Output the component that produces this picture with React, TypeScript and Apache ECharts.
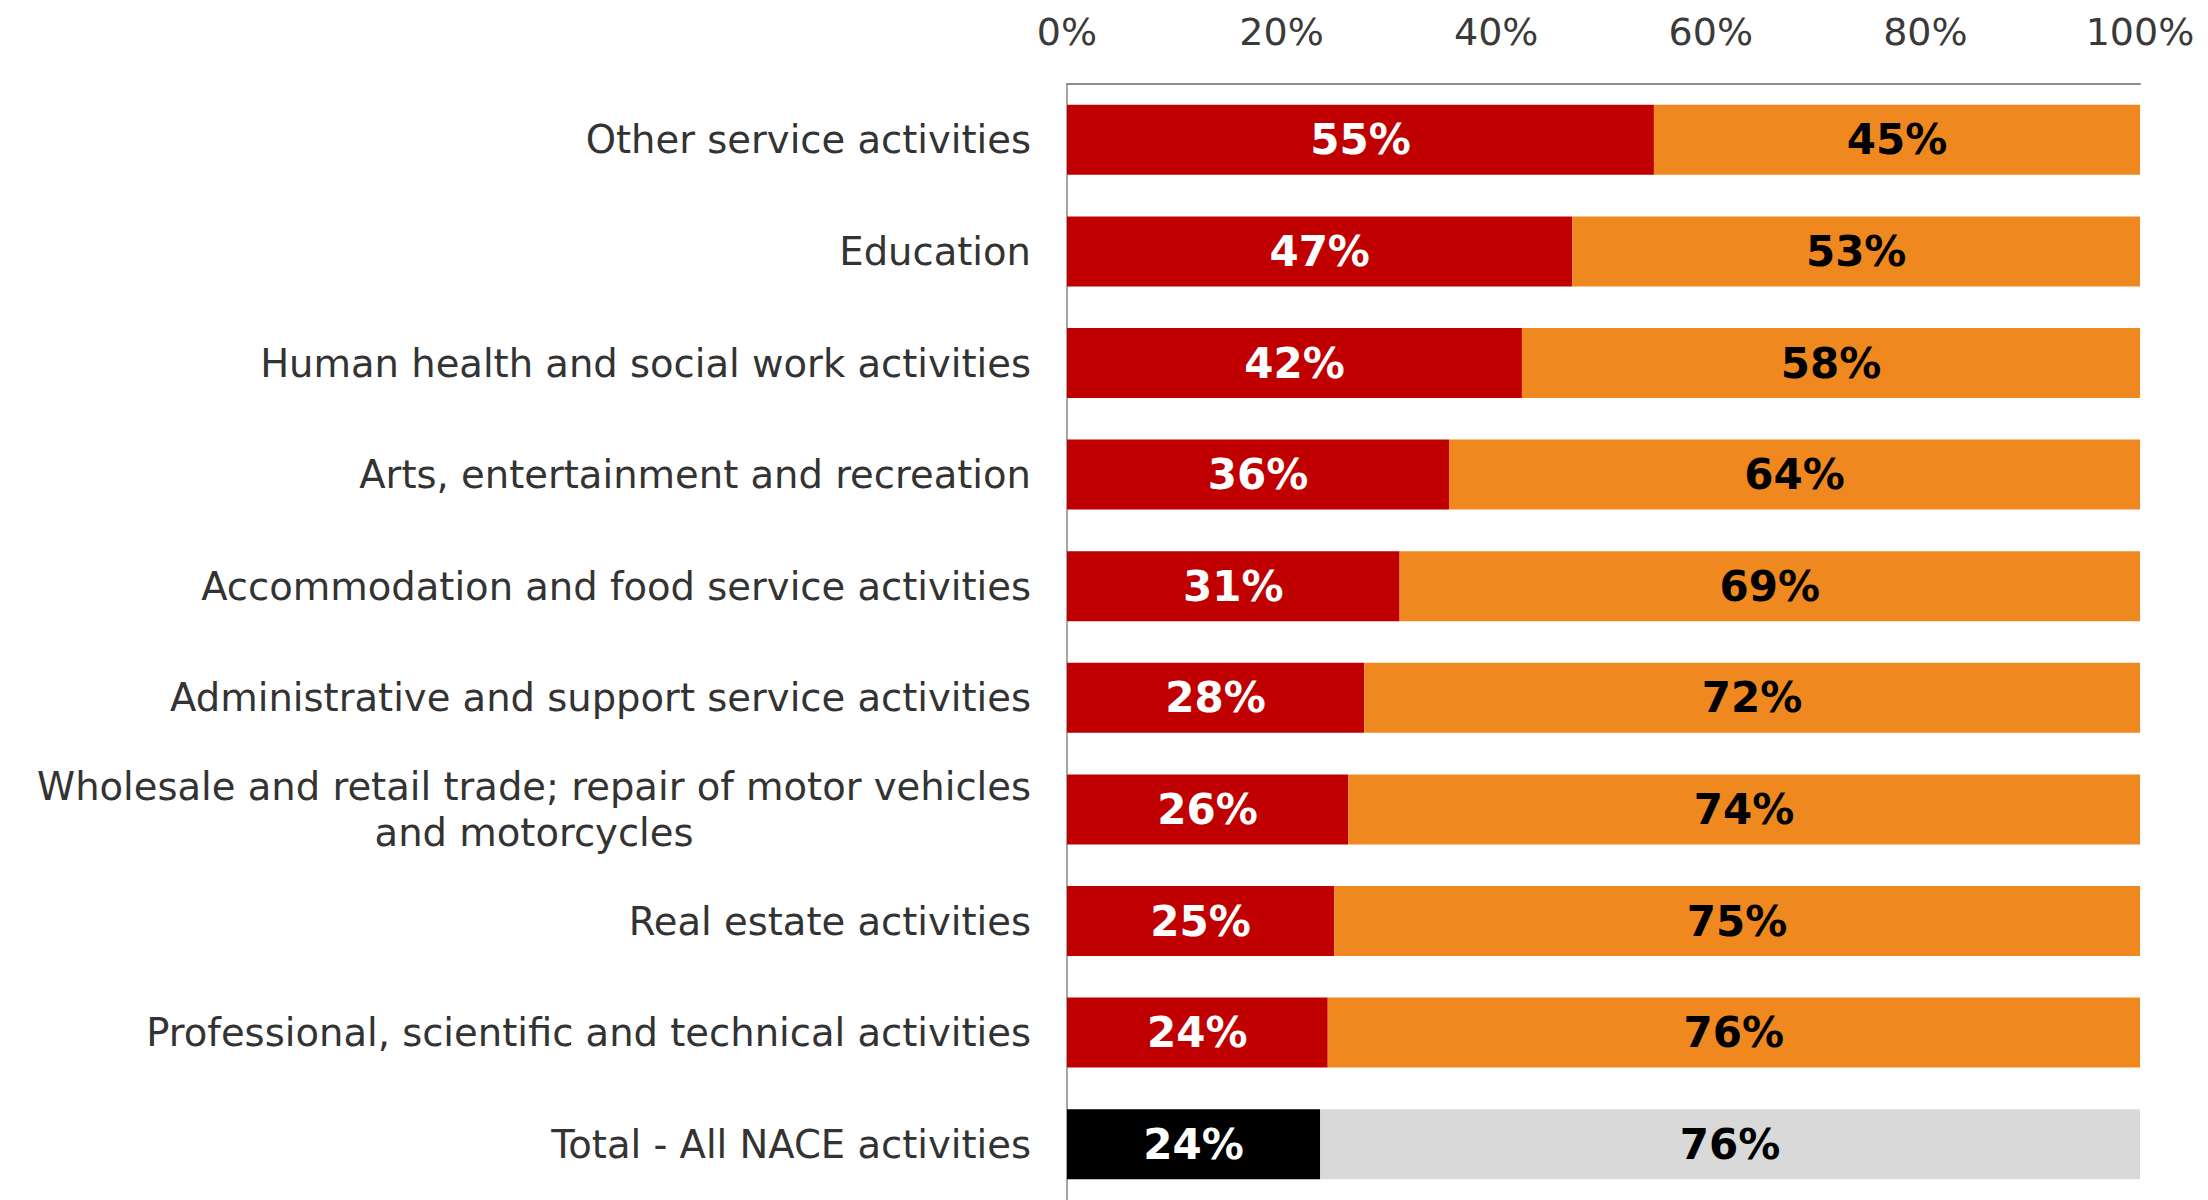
import React, { useEffect, useRef } from "react";
import * as echarts from "echarts";

const categories = [
  "Other service activities",
  "Education",
  "Human health and social work activities",
  "Arts, entertainment and recreation",
  "Accommodation and food service activities",
  "Administrative and support service activities",
  "Wholesale and retail trade; repair of motor vehicles\nand motorcycles",
  "Real estate activities",
  "Professional, scientific and technical activities",
  "Total - All NACE activities",
];
const shareA = [54.7, 47.1, 42.4, 35.6, 31.0, 27.7, 26.2, 24.9, 24.3, 23.6];
const shareB = [45.3, 52.9, 57.6, 64.4, 69.0, 72.3, 73.8, 75.1, 75.7, 76.4];
const xTicks = [0, 20, 40, 60, 80, 100];

const FONT = '"DejaVu Sans", Verdana, sans-serif';
const LABEL_SIZE = 38.5;

function measure(text: string, size: number): number {
  const c = document.createElement("canvas");
  const ctx = c.getContext("2d");
  if (!ctx) return text.length * size * 0.6;
  ctx.font = `${size}px "DejaVu Sans"`;
  return ctx.measureText(text).width;
}

export default function App() {
  const ref = useRef<HTMLDivElement>(null);
  useEffect(() => {
    document.body.style.margin = "0";
    if (!ref.current) return;
    const chart = echarts.init(ref.current, undefined, { renderer: "svg" });
    const isTotal = (i: number) => i === categories.length - 1;
    const longLine = categories[6].split("\n")[0];
    const pct = (p: any) => `${Math.round(p.value)}%`;
    const option: any = {
      animation: false,
      backgroundColor: "#ffffff",
      grid: { left: 1067, top: 84, width: 1073, height: 1124, containLabel: false },
      xAxis: {
        type: "value",
        position: "top",
        min: xTicks[0],
        max: xTicks[xTicks.length - 1],
        interval: 20,
        axisLine: { show: true, lineStyle: { color: "#8c8c8c", width: 2 } },
        axisTick: { show: false },
        splitLine: { show: false },
        axisLabel: {
          formatter: "{value}%",
          fontFamily: FONT,
          fontSize: 38,
          color: "#3a3a3a",
          margin: 33,
        },
      },
      yAxis: {
        type: "category",
        inverse: true,
        data: categories,
        axisLine: { show: true, lineStyle: { color: "#a6a6a6", width: 2 } },
        axisTick: { show: false },
        axisLabel: {
          margin: 36,
          fontFamily: FONT,
          fontSize: LABEL_SIZE,
          color: "#333333",
          lineHeight: 46,
          formatter: (v: string) => {
            if (v.indexOf("\n") < 0) return v;
            return v
              .split("\n")
              .map((l) => `{c|${l}}`)
              .join("\n");
          },
          rich: {
            c: {
              fontFamily: FONT,
              fontSize: LABEL_SIZE,
              color: "#333333",
              lineHeight: 46,
              align: "center",
              width: measure(longLine, LABEL_SIZE),
            },
          },
        },
      },
      series: [
        {
          type: "bar",
          stack: "s",
          barWidth: 70,
          data: shareA.map((v, i) => ({
            value: v,
            itemStyle: { color: isTotal(i) ? "#000000" : "#c00000" },
          })),
          label: {
            show: true,
            position: "inside",
            formatter: pct,
            color: "#ffffff",
            fontFamily: FONT,
            fontWeight: "bold",
            fontSize: 42,
          },
        },
        {
          type: "bar",
          stack: "s",
          barWidth: 70,
          data: shareB.map((v, i) => ({
            value: v,
            itemStyle: { color: isTotal(i) ? "#d9d9d9" : "#ef891f" },
          })),
          label: {
            show: true,
            position: "inside",
            formatter: pct,
            color: "#000000",
            fontFamily: FONT,
            fontWeight: "bold",
            fontSize: 42,
          },
        },
      ],
    };
    chart.setOption(option);
    return () => chart.dispose();
  }, []);
  return <div ref={ref} style={{ width: 2208, height: 1200 }} />;
}
